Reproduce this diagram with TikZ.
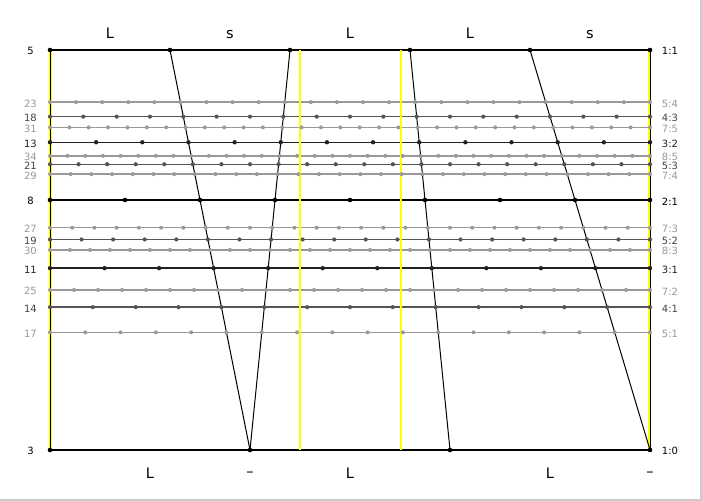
\documentclass[tikz,border=0pt]{standalone}
\usepackage{fontspec}
\setmainfont{DejaVu Sans}
\definecolor{dA}{HTML}{000000}
\definecolor{dB}{HTML}{222222}
\definecolor{dC}{HTML}{555555}
\definecolor{dD}{HTML}{999999}
\definecolor{tA}{HTML}{000000}
\definecolor{tB}{HTML}{222222}
\definecolor{tC}{HTML}{444444}
\definecolor{tD}{HTML}{999999}
\definecolor{yel}{HTML}{FFFF00}
\definecolor{frame}{HTML}{CCCCCC}
\tikzset{
  steplabel/.style={inner sep=0pt, anchor=base, font=\fontsize{14.5}{16}\selectfont},
  numlabel/.style={inner sep=0pt, font=\fontsize{10}{12}\selectfont},
  yelline/.style={yel, line width=2.7pt},
  noteline/.style={black, line width=1pt},
}
\begin{document}
\begin{tikzpicture}[x=1pt,y=-1pt]
\useasboundingbox (0,0) rectangle (702,501);
\fill[white] (0,0) rectangle (702,501);
\draw[frame, line width=2pt] (701,0) -- (701,500) -- (0,500);
% horizontal ratio lines
\foreach \p/\q/\c/\w in {5/4/dD/1.3, 7/5/dD/1.3, 8/5/dD/1.3, 7/4/dD/1.3, 7/3/dD/1.3, 8/3/dD/1.3, 7/2/dD/1.3, 5/1/dD/1.3,
                         4/3/dC/1.3, 5/3/dC/1.3, 5/2/dC/1.3, 4/1/dC/1.3,
                         3/2/dB/1.4, 3/1/dB/1.4,
                         2/1/dA/1.8, 1/1/dA/1.8, 1/0/dA/1.8}{
  \pgfmathtruncatemacro\n{3*\p+2*\q}
  \pgfmathsetmacro\yy{3000*(\p/\n)-550}
  \coordinate (L\n) at (50,\yy);
  \coordinate (R\n) at (650,\yy);
  \draw[\c, line width=\w pt] (L\n) -- (R\n);
}
% yellow lines
\coordinate (ya0) at (50.5,50);    \coordinate (yb0) at (50.5,450);
\coordinate (ya5) at (300,50);     \coordinate (yb5) at (300,450);
\coordinate (ya7) at (401,50);     \coordinate (yb7) at (401,450);
\coordinate (ya12) at (649.5,50);  \coordinate (yb12) at (649.5,450);
\foreach \k in {0,5,7,12}{ \draw[yelline] (ya\k) -- (yb\k); }
% note lines
\foreach \k/\bx in {0/50, 1/250, 2/250, 3/450, 4/650, 5/650}{
  \pgfmathsetmacro\tx{50+120*\k}
  \coordinate (T\k) at (\tx,50);
  \coordinate (B\k) at (\bx,450);
  \draw[noteline] (T\k) -- (B\k);
}
% dots and labels
\foreach \p/\q/\c/\tc/\rr in {5/4/dD/tD/2, 7/5/dD/tD/2, 8/5/dD/tD/2, 7/4/dD/tD/2, 7/3/dD/tD/2, 8/3/dD/tD/2, 7/2/dD/tD/2, 5/1/dD/tD/2,
                         4/3/dC/tC/2.1, 5/3/dC/tC/2.1, 5/2/dC/tC/2.1, 4/1/dC/tC/2.1,
                         3/2/dB/tB/2.2, 3/1/dB/tB/2.2,
                         2/1/dA/tA/2.3, 1/1/dA/tA/2.3, 1/0/dA/tA/2.3}{
  \pgfmathtruncatemacro\n{3*\p+2*\q}
  \pgfmathsetmacro\yy{3000*(\p/\n)-550}
  \foreach \k in {0,...,\n}{
    \fill[\c] ({50+600*(\k/\n)},\yy) circle[radius=\rr pt];
  }
  \node[numlabel, text=\tc] (lab\n) at (30.5,\yy+1.3) {\n};
  \node[numlabel, text=\tc] (rat\n) at (670,\yy+1.3) {\p:\q};
}
% step labels
\node[steplabel] (s1) at (110,38.5) {L};
\node[steplabel] (s2) at (230,38.5) {s};
\node[steplabel] (s3) at (350,38.5) {L};
\node[steplabel] (s4) at (470,38.5) {L};
\node[steplabel] (s5) at (590,38.5) {s};
\node[steplabel] (b1) at (150,478.5) {L};
\node[steplabel] (b2) at (250,476) {–};
\node[steplabel] (b3) at (350,478.5) {L};
\node[steplabel] (b4) at (550,478.5) {L};
\node[steplabel] (b5) at (650,476) {–};
\end{tikzpicture}
\end{document}
